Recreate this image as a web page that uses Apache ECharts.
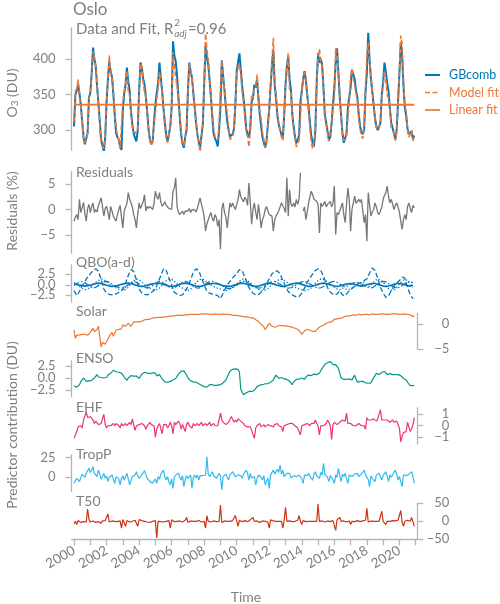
<!DOCTYPE html>
<html><head><meta charset="utf-8">
<script src="https://cdn.jsdelivr.net/npm/echarts@6/dist/echarts.min.js"></script>
<style>html,body{margin:0;padding:0;background:#fff}#c{width:500px;height:604px}</style>
</head><body><div id="c"></div>
<script>
// ---------------- DATA ----------------
const START_YEAR = 2000;        // first month: Jan 2000
const N_MONTHS = 252;           // monthly, Jan 2000 .. Dec 2020
const N_BIMONTH = 126;          // QBO terms read every 2 months
const xTickYears = [2000,2001,2002,2003,2004,2005,2006,2007,2008,2009,2010,2011,2012,2013,2014,2015,2016,2017,2018,2019,2020,2021];
const xLabelYears = [2000,2002,2004,2006,2008,2010,2012,2014,2016,2018,2020];

const o3Ticks = [300,350,400];
const resTicks = [-5,0,5];
const qboTicks = [-2.5,0,2.5];
const solarTicks = [-5,0];
const ensoTicks = [-2.5,0,2.5];
const ehfTicks = [-1,0,1];
const tropTicks = [0,25];
const t50Ticks = [-50,0,50];

const legendNames = ['GBcomb', 'Model fit', 'Linear fit'];

// GBcomb total ozone (DU)
const gbcomb = [
305,350,355,364,352,335,312,290,280,281,296,346,
352,380,416,400,390,362,338,312,286,278,270,290,
340,372,397,382,375,350,322,296,290,287,276,272,
328,352,364,388,368,356,326,308,295,289,284,300,
355,395,388,372,364,346,325,300,286,280,284,312,
336,352,366,395,374,355,330,310,292,284,294,305,
332,425,405,397,376,346,318,294,281,275,290,300,
355,395,382,374,352,332,310,294,283,275,292,308,
364,418,402,392,370,346,318,294,288,284,277,300,
332,398,376,355,332,312,300,291,290,294,302,336,
383,396,408,386,362,345,326,302,294,290,302,340,
345,364,360,371,346,322,305,290,282,275,285,308,
330,362,392,413,364,345,320,308,300,294,288,320,
364,390,404,372,356,322,305,290,281,279,292,340,
355,372,383,370,350,332,310,292,282,277,300,368,
408,395,400,392,360,322,310,298,286,290,310,336,
360,396,415,380,346,320,296,282,280,295,332,346,
360,385,378,372,356,346,322,305,298,294,300,354,
380,437,400,372,354,335,317,305,300,298,310,350,
368,395,382,366,354,330,310,303,295,287,300,340,
380,423,405,362,332,320,302,294,296,298,287,292];

// Model fit (DU)
const modelFit = [
312,355,358,371,345,337,311,286,282,288,295,343,
354,378,411,402,390,364,335,307,280,277,274,289,
338,374,405,380,376,355,328,303,293,287,274,276,
340,353,364,383,356,349,322,306,298,295,294,302,
350,394,388,367,354,347,323,299,284,279,284,308,
324,343,359,382,368,353,327,305,290,282,293,304,
332,410,389,374,374,348,321,298,282,278,291,302,
356,394,384,374,351,332,312,293,283,269,289,308,
370,436,413,400,374,348,324,301,291,289,286,306,
358,398,371,357,337,323,303,287,289,290,300,336,
379,388,393,377,354,340,318,296,292,276,298,350,
345,359,362,378,343,325,316,296,286,275,283,309,
333,366,397,430,371,350,323,309,298,290,285,319,
366,367,409,358,352,320,301,289,276,276,286,317,
355,373,381,378,352,328,302,282,274,272,295,362,
404,414,395,390,356,317,308,295,284,285,308,332,
344,416,417,384,350,318,292,285,287,292,319,339,
376,385,373,363,352,341,316,301,292,288,308,358,
405,423,396,377,356,335,313,303,302,301,314,348,
361,384,370,350,345,326,304,300,295,285,296,338,
382,433,421,369,335,326,300,290,295,300,285,291];

// Linear fit: start and end of the fitted straight line
const linearFitYears = [2000, 2020.917];
const linearFitValues = [335.8, 335.6];

// Residuals (%)
const residuals = [
-2.3,-1.5,-1.0,-2.0,2.0,-0.6,0.4,1.4,-0.8,-2.3,0.2,1.0,
-0.6,0.5,1.3,-0.6,0.0,-0.5,0.8,1.5,2.3,0.5,-1.3,0.2,
0.6,-0.5,-2.0,0.6,-0.3,-1.3,-1.8,-2.3,-1.0,0.0,0.8,-1.5,
-3.6,-0.3,0.0,1.2,3.3,2.0,1.3,0.5,-1.0,-2.0,-3.6,-0.8,
1.3,0.2,0.0,1.5,2.9,-0.3,0.6,0.2,0.6,0.4,0.0,1.2,
3.6,2.5,2.0,3.3,1.5,0.6,1.0,1.5,0.8,0.6,0.2,0.3,
0.0,3.6,4.2,6.2,0.6,-0.5,-1.0,-1.3,-0.3,-1.0,-0.3,-0.6,
-0.3,0.2,-0.6,0.0,0.3,-0.1,-0.5,0.3,0.0,2.3,1.0,0.0,
-1.5,-4.2,-2.8,-2.0,-1.2,-0.6,-1.8,-2.3,-1.0,-1.6,-3.3,-2.0,
-7.8,0.0,1.3,-0.6,-1.5,-3.6,-1.0,1.3,0.5,1.3,0.6,0.0,
1.0,2.0,3.9,2.5,2.3,1.5,2.4,2.0,0.8,5.2,1.5,-2.9,
0.0,1.3,-0.5,-2.0,1.0,-1.0,-3.6,-2.0,-1.3,0.0,0.6,-0.3,
-1.0,-1.2,-1.3,-4.2,-2.0,-1.3,-0.8,-0.3,0.5,1.3,1.0,0.2,
-0.6,6.2,-1.3,3.9,1.0,0.6,1.3,0.5,2.0,1.0,2.0,7.2,
null,-0.3,0.5,-2.0,-0.5,1.3,2.5,3.6,2.9,2.0,1.8,1.6,
1.0,-4.6,1.3,0.6,1.0,1.6,0.5,1.0,0.8,1.6,0.5,1.2,
4.6,-4.9,-0.6,-1.0,-1.3,0.5,1.3,-1.0,-2.6,1.0,4.2,2.0,
-4.2,0.0,1.3,2.6,1.2,1.6,2.0,1.4,2.0,2.0,-2.6,-1.0,
-6.2,3.3,1.0,-1.3,-0.5,0.0,1.3,0.5,-0.6,-1.0,-1.3,0.5,
2.0,2.8,3.3,4.6,2.5,1.3,2.0,1.0,0.0,0.8,1.3,0.5,
-0.5,-2.3,-3.9,-2.0,-1.0,-2.0,0.6,1.3,0.2,-0.6,0.8,0.3];

// QBO terms (DU), every 2 months
const qboA = [
0.2,0.1,-0.1,-0.2,-0.3,-0.2, -0.1,0.1,0.3,0.4,0.3,0.1, -0.1,-0.3,-0.4,-0.3,-0.2,0.0,
0.2,0.3,0.4,0.3,0.1,-0.1, -0.3,-0.4,-0.3,-0.1,0.1,0.2, 0.3,0.4,0.3,0.1,-0.1,-0.3,
-0.4,-0.3,-0.1,0.1,0.3,0.4, 0.3,0.1,-0.1,-0.3,-0.4,-0.3, -0.1,0.1,0.2,0.3,0.3,0.2,
0.0,-0.2,-0.3,-0.4,-0.3,-0.1, 0.1,0.3,0.4,0.3,0.1,-0.1, -0.3,-0.4,-0.3,-0.1,0.1,0.3,
0.4,0.3,0.1,-0.1,-0.3,-0.4, -0.3,-0.1,0.1,0.3,0.4,0.3, 0.1,-0.1,-0.3,-0.4,-0.3,-0.1,
0.1,0.3,0.4,0.3,0.1,-0.1, -0.3,-0.4,-0.3,-0.1,0.1,0.2, 0.3,0.2,0.0,-0.2,-0.3,-0.2,
0.0,0.2,0.3,0.3,0.1,-0.1, -0.3,-0.4,-0.3,-0.1,0.1,0.3, 0.3,0.2,0.0,-0.2,-0.3,-0.1];
const qboB = [
-1.4,-2.6,-1.6,-0.2,0.8,1.8, 2.6,3.4,3.8,3.2,1.2,-1.0, -2.0,-2.3,-2.4,-2.3,-2.0,-1.6,
-1.2,0.4,2.2,3.6,3.2,1.2, -1.0,-2.0,-2.3,-2.4,-2.0,-1.6, -1.0,0.6,2.2,3.8,3.4,1.6,
0.0,-1.8,-2.2,-2.5,-2.4,-1.6, -0.4,1.2,3.0,3.8,3.4,1.6, 0.0,-1.6,-2.0,-2.2,-2.4,-2.6,
-3.3,-2.0,-0.6,0.4,1.2,2.0, 2.6,3.6,3.4,1.8,0.0,-1.2, -2.0,-2.4,-2.3,-1.8,-1.0,0.2,
1.4,2.6,3.2,3.3,2.6,1.0, -0.4,-1.6,-2.2,-2.6,-2.9,-2.8, -2.0,-0.8,0.6,1.6,2.6,3.4,
3.8,3.4,2.0,0.2,-1.4,-2.0, -2.4,-2.2,-1.4,-2.4,-2.6,-1.8, -1.2,-0.6,0.0,0.3,0.6,1.0,
1.4,2.8,4.0,3.4,1.6,-0.6, -2.0,-3.0,-2.6,-1.4,-0.4,0.4, 1.0,1.8,1.6,-0.6,-2.4,-3.3];
const qboC = [
0.5,0.2,-0.4,-0.9,-1.2,-1.0, -0.6,0.0,0.6,1.0,1.4,1.2, 0.8,0.2,-0.3,-0.6,-0.9,-1.2,
-1.3,-1.1,-0.6,0.2,0.9,1.4, 1.2,0.7,0.0,-0.5,-0.9,-1.1, -1.3,-1.0,-0.5,0.3,1.0,1.3,
1.3,0.8,0.2,-0.4,-0.8,-1.2, -1.4,-1.0,-0.3,0.5,1.1,1.4, 1.2,0.6,0.2,-0.2,-0.6,-0.8,
-1.0,-1.3,-1.4,-1.2,-0.8,-0.4, 0.2,0.8,1.3,1.4,1.0,0.5, -0.2,-0.7,-1.1,-1.3,-1.4,-1.1,
-0.6,0.0,0.6,1.0,1.3,1.2, 0.9,0.4,0.0,-0.4,-0.8,-1.0, -1.2,-1.4,-1.3,-1.0,-0.4,0.4,
1.0,1.4,1.3,0.9,0.4,-0.2, -0.6,-1.0,-1.2,-0.8,-1.0,-1.2, -1.0,-0.6,-0.2,0.3,0.6,0.5,
0.0,-0.4,0.2,1.0,1.4,1.2, 0.6,-0.2,-0.9,-1.3,-1.2,-0.6, 0.2,0.9,1.3,1.0,0.2,-0.6];
const qboD = [
-0.2,0.3,0.6,0.8,0.5,0.0, -0.5,-0.8,-0.6,-0.2,0.3,0.7, 0.8,0.6,0.2,-0.2,-0.5,-0.7,
-0.8,-0.5,0.0,0.5,0.8,0.6, 0.2,-0.3,-0.6,-0.8,-0.6,-0.2, 0.3,0.7,0.8,0.5,0.0,-0.5,
-0.8,-0.7,-0.3,0.2,0.6,0.8, 0.6,0.2,-0.3,-0.7,-0.8,-0.5, 0.0,0.4,0.7,0.8,0.6,0.3,
0.0,-0.4,-0.7,-0.9,-0.8,-0.5, -0.1,0.4,0.8,0.9,0.6,0.1, -0.3,-0.6,-0.8,-0.7,-0.4,0.0,
0.4,0.7,0.8,0.5,0.1,-0.3, -0.6,-0.8,-0.7,-0.4,0.0,0.4, 0.7,0.8,0.6,0.2,-0.2,-0.6,
-0.8,-0.7,-0.4,0.0,0.4,0.7, 0.8,0.6,0.2,-0.2,-0.5,-0.3, 0.1,0.4,0.6,0.5,0.2,-0.2,
-0.5,-0.8,-0.7,-0.3,0.2,0.6, 0.8,0.7,0.3,-0.2,-0.6,-0.8, -0.6,-0.2,0.3,0.7,0.8,0.5];

// Solar (DU)
const solar = [
-1.1,-2.8,-2.2,-1.8,-2.1,-2.4,-2.0,-1.6,-2.0,-1.7,-2.2,-2.0,
-1.6,-1.2,-0.8,-1.5,-1.8,-1.0,-0.4,-2.5,-4.5,-3.6,-3.2,-4.0,
-3.8,-3.0,-2.4,-2.0,-1.6,-2.4,-1.8,-1.2,-1.6,-1.0,-0.8,-0.9,
-0.1,-0.3,-0.4,0.0,0.2,0.1,-0.4,0.0,0.5,0.3,0.5,0.6,
0.5,0.7,0.6,0.8,0.9,0.7,1.0,1.2,1.0,1.2,1.3,1.2,
1.3,1.5,1.4,1.5,1.4,1.6,1.5,1.6,1.5,1.7,1.6,1.7,
1.7,1.8,1.7,1.8,1.8,1.7,1.8,1.9,1.8,1.9,1.9,1.8,
1.9,1.9,2.0,1.9,2.0,2.0,2.0,2.1,2.0,2.1,2.1,2.0,
2.1,2.0,2.1,2.1,2.0,2.1,2.0,2.1,2.1,2.0,2.0,2.1,
2.0,2.0,2.1,2.0,2.0,1.9,2.0,2.0,1.9,1.9,1.8,1.9,
1.8,1.7,1.7,1.8,1.6,1.7,1.5,1.6,1.5,1.5,1.3,1.4,
1.3,1.2,0.9,0.5,0.6,0.2,0.0,-0.1,-0.5,-1.1,-0.6,-0.3,
0.2,-0.2,-0.4,-0.2,-0.6,-0.3,-0.4,-0.1,-0.2,-0.5,-0.3,-0.1,
-0.3,-0.6,-0.4,-0.8,-0.5,-0.4,-0.7,-0.5,-0.9,-0.6,-1.2,-1.0,
-2.0,-1.6,-1.3,-1.5,-1.0,-1.3,-1.2,-1.1,-1.4,-1.6,-1.4,-1.0,
-0.8,-0.6,-0.4,-0.5,-0.2,0.0,0.2,0.1,0.4,0.7,0.5,0.8,
1.0,1.2,1.1,1.3,1.2,1.4,1.3,1.5,1.6,1.5,1.7,1.8,
1.7,1.8,1.9,1.7,1.8,1.9,2.0,1.8,1.9,2.0,2.0,1.9,
2.0,2.0,1.9,2.0,2.1,2.0,2.0,2.1,2.0,2.0,2.1,2.0,
2.1,2.0,2.0,2.1,2.0,2.1,2.1,2.0,2.1,2.0,2.1,2.1,
2.0,2.1,2.0,2.0,2.1,2.0,2.0,1.9,1.9,1.8,1.5,1.7];

// ENSO (DU)
const enso = [
-1.6,-1.7,-1.9,-1.6,-1.4,-0.8,-0.4,0.0,-0.4,-0.7,-0.8,-0.6,
-0.8,-0.5,-0.3,0.0,0.3,0.7,0.2,-0.2,0.1,0.3,0.0,-0.2,
0.1,0.6,0.8,1.0,1.4,1.6,1.5,1.3,1.4,1.2,1.1,1.0,
0.6,0.2,-0.2,-0.5,0.0,0.3,0.5,0.3,0.4,0.6,0.4,0.0,
-0.1,0.3,0.8,1.0,1.2,1.4,1.0,0.7,0.9,0.8,1.1,1.4,
1.0,0.4,0.6,0.7,0.3,-0.2,-0.4,-0.8,-1.0,-0.9,-0.7,-0.7,
-0.6,-0.4,-0.2,-0.1,0.3,0.8,1.2,1.4,1.6,1.5,1.2,0.6,
0.0,-0.3,-0.6,-0.7,-0.8,-1.0,-0.9,-1.1,-1.2,-1.4,-1.5,-1.6,
-1.8,-2.0,-1.9,-1.6,-1.4,-1.2,-1.4,-1.5,-1.6,-1.4,-1.5,-1.5,
-1.4,-1.2,-1.0,-0.7,-0.4,0.2,0.8,1.4,1.6,1.8,2.0,1.9,
2.0,1.8,1.2,-2.4,-2.9,-3.5,-3.3,-3.1,-3.0,-2.8,-2.9,-2.8,
-2.7,-2.6,-2.2,-1.8,-1.6,-1.5,-1.5,-1.4,-1.3,-1.2,-1.3,-1.2,
-1.1,-0.9,-0.6,-0.4,0.0,0.6,0.3,-0.1,0.0,0.1,0.0,-0.2,
-0.2,-0.3,-0.5,-0.7,-1.0,-1.4,-0.8,-0.4,-0.3,-0.2,-0.2,-0.1,
0.0,-0.2,-0.3,0.2,0.4,0.6,0.4,0.5,0.7,0.8,0.9,0.7,
0.6,1.0,1.5,2.0,2.4,2.8,3.0,3.2,3.5,3.4,3.0,2.8,
2.8,2.8,2.4,2.0,1.0,0.0,-0.2,-0.3,-0.4,-0.3,-0.3,-0.2,
-0.3,-0.4,-0.6,0.6,-0.2,-0.9,-0.8,-0.7,-0.8,-0.7,-0.8,-1.0,
-0.9,-1.1,-1.4,-1.0,-0.4,0.0,0.5,1.0,0.9,0.7,0.8,1.2,
1.3,1.4,1.0,0.7,0.8,0.9,0.8,0.7,0.6,0.7,0.8,0.7,
0.6,0.5,0.2,-0.1,-0.2,-0.4,-0.9,-1.3,-1.6,-1.7,-1.6,-1.6];

// EHF (DU)
const ehf = [
-1.1,-0.8,-0.5,-0.1,-0.2,0.0,-0.2,0.5,0.4,1.2,0.7,0.6,
0.8,0.9,0.5,0.2,0.4,0.3,0.1,0.0,0.2,0.3,1.0,0.1,
-0.2,0.0,0.1,0.0,-0.1,0.2,0.0,0.2,0.1,0.0,-0.2,0.2,
0.0,0.1,0.2,0.0,0.1,0.3,0.1,0.6,0.1,-0.4,0.0,-0.1,
0.1,0.0,0.2,0.1,0.0,-0.3,0.0,0.1,0.3,0.1,0.2,0.0,
-1.0,-0.3,0.0,0.2,0.1,-0.7,0.1,0.2,0.1,-0.2,0.0,0.3,
0.0,-0.7,0.3,0.1,0.0,0.4,0.2,-0.3,0.1,0.0,-0.5,0.1,
0.3,0.0,0.1,-0.2,0.2,0.0,0.1,0.2,0.0,0.1,0.3,0.0,
0.1,0.2,0.0,0.1,0.3,0.0,0.1,0.2,0.0,0.1,0.0,0.1,
1.1,0.5,0.3,0.2,0.1,0.2,0.3,0.2,0.8,0.8,0.3,0.5,
0.3,0.6,0.7,0.4,0.3,0.2,0.0,0.1,-0.1,-0.2,-0.1,-0.4,
-0.3,-1.1,-0.2,0.0,0.1,0.2,-0.1,0.0,0.1,-0.1,0.0,0.1,
0.2,0.0,0.1,-0.1,0.1,0.0,0.2,0.0,0.1,-0.1,-0.5,0.0,
-0.1,0.1,0.0,0.2,0.1,0.2,0.1,0.0,0.1,-0.2,-0.5,-0.8,
0.0,0.1,0.1,0.0,0.2,0.1,0.0,0.2,0.1,0.2,0.5,0.2,
0.0,-0.8,0.0,0.1,0.0,0.1,0.2,0.5,0.3,0.0,-1.2,0.1,
0.3,0.2,0.1,0.2,0.3,0.2,0.5,0.6,0.4,1.1,0.2,0.1,
0.2,0.1,0.0,0.1,0.0,0.1,0.2,0.1,0.0,0.1,0.0,-0.3,
0.7,0.5,0.6,0.5,0.5,0.6,0.5,0.4,0.6,0.5,1.4,0.5,
0.6,0.5,0.4,0.5,0.6,0.3,0.4,0.5,0.3,0.2,0.4,0.1,
-0.2,-1.4,-0.9,-0.6,-0.7,-0.5,0.3,0.2,-0.5,-0.3,0.1,0.7];

// TropP (DU)
const tropP = [
-7.5,-4,-1.3,1,-5.4,0,4,2.9,0,5,7,11.3,
6,9,13.3,5,2.9,1,9,4,-2.5,1,5,-1,
2,-5.4,0,2,2.9,1,-7.5,0.8,0.8,-2,-9.6,-1,
2,-3.4,1,5,-2,-9.6,-4,1,-1.3,3,7,2,
-1.3,0,2.9,5,8.3,3,-1.3,0,-5.4,-3,-7.5,-5,
-2,-7.5,1,-2.5,4,6,9,0,-3.4,1,-6,-9.6,
-2,-13.8,0,2.9,4,5,0,-3.4,2,-11.7,-3,2,
-1.3,1,3,-13.8,0,2.9,-1,3,-3.4,2,0.8,2,
0,2.9,25.8,4,0.8,3,7,2,4,-1.3,1,5,
2,-15.9,1,0.8,4,2,-3.4,3,5,7,4,0.8,
2,3,5,2,-1.3,4,6,9,5,-3.4,5,-1,
-3.4,1,-9.6,-2,2.9,4,0,-3.4,2,-9.6,-5,-1,
-13.8,3,2,9,4,5,10,6,15.4,4,9,1,
0.8,5,3,5,-1,-1.3,2,0,0.8,3,2.9,1,
-2,-7.5,3,0.8,2,5,1,3,-3.4,4,7,2,
0,-1.3,6,3,17.5,4,5,0,-5.4,2,2.9,-3,
-7.5,3,0,11.3,2,-5.4,4,1,5,-2,-7.5,3,
2.9,1,0.8,4,2,5,1,2.9,4,6,9,3,
0.8,-3,-11.7,2,-1.3,1,-5.4,3,2,5,1,-3.4,
2,4,7,1,-5.4,3,0,2.9,6,9,4,-3.4,
1,2,-11.7,3,5,2,0.8,4,3,7,1,-7.5];

// T50 (DU)
const t50 = [
-7,0,-9,2,0,-3,2,-1,3,-2,34,6,
-2,-4,1,0,-3,2,-1,0,-5,1,0,2,
-3,20,-2,0,1,-3,0,2,-1,-4,1,-19,
5,0,-14,2,0,-2,1,0,-1,3,-1,-14,
5,0,2,-1,0,3,-2,0,-3,1,0,4,
2,-46,0,2,-1,0,-2,1,0,-1,2,-19,
4,0,-1,2,0,-3,1,0,-2,0,3,11,
-3,0,1,-2,0,1,0,-1,2,0,-2,1,
0,-19,16,0,1,-2,0,1,0,-1,2,0,
45,-3,0,1,-2,0,1,0,-1,2,0,16,
1,-14,3,0,-1,0,2,0,-1,0,4,5,
11,0,-2,1,0,-3,0,1,-1,0,2,-2,
-19,4,0,1,-2,0,1,0,-1,0,-19,2,
39,0,-2,1,0,-1,2,0,-1,3,16,0,
-9,2,0,-1,1,0,-2,0,1,0,3,0,
48,0,-1,1,0,-2,0,1,0,-1,0,2,
-3,-25,4,0,11,0,-1,1,0,-2,0,1,
-9,0,1,-1,0,2,0,-1,0,1,0,3,
36,-2,0,1,-1,0,1,0,-1,0,2,28,
0,3,-9,0,1,0,-1,2,0,1,-1,3,
2,30,-2,-14,0,1,3,2,0,11,14,-14];

// ---------------- CHART ----------------
const monthX = Array.from({length: N_MONTHS}, (_, i) => START_YEAR + i / 12);
const bimonthX = Array.from({length: N_BIMONTH}, (_, i) => START_YEAR + 2 * i / 12);
const pairs = (xs, ys) => xs.map((x, i) => [x, ys[i]]);

const TXT = '#7f7f7f', AX = '#b5b5b5', FONT = 'Lato';
const C = {blue:'#0077BB', orange:'#EE7733', teal:'#009988', magenta:'#EE3377', cyan:'#33BBEE', red:'#CC3311', grey:'#777777'};

const GL = 71.6, GW = 345.7;
const panels = [
  {top:28,    h:122,  min:271.9, max:443.7, pos:'left',  ticks:o3Ticks,    dec:0},
  {top:171.7, h:81.3, min:-8.53, max:7.41,  pos:'left',  ticks:resTicks,   dec:0},
  {top:265,   h:37,   min:-4.1,  max:4.71,  pos:'left',  ticks:qboTicks,   dec:1},
  {top:313.3, h:36,   min:-5,    max:2.2,   pos:'right', ticks:solarTicks, dec:0},
  {top:361,   h:35.7, min:-3.9,  max:3.54,  pos:'left',  ticks:ensoTicks,  dec:1},
  {top:407.7, h:36.3, min:-1.59, max:1.57,  pos:'right', ticks:ehfTicks,   dec:0},
  {top:455,   h:36.7, min:-18,   max:27.9,  pos:'left',  ticks:tropTicks,  dec:0},
  {top:503.3, h:36,   min:-50,   max:50,    pos:'right', ticks:t50Ticks,   dec:0}
];
const fmt = (dec) => (v) => (dec ? Number(v).toFixed(dec) : String(Math.round(v))).replace('-', '\u2212');

const grids = panels.map(p => ({left:GL, width:GW, top:p.top, height:p.h}));
const xAxes = panels.map((p, i) => {
  const last = i === panels.length - 1;
  return {
    type:'value', gridIndex:i, min:1999.85, max:2021.1, show:last,
    splitLine:{show:false},
    axisLine:{show:true, onZero:false, lineStyle:{color:AX, width:1.3}},
    axisTick:{show:true, length:6, customValues:xTickYears, lineStyle:{color:AX, width:1.3}},
    axisLabel:{show:true, customValues:xLabelYears, rotate:30, margin:10, color:TXT, fontSize:13.5, fontFamily:FONT, formatter:(v)=>String(Math.round(v))}
  };
});
// One y axis per tick value (ECharts hides ticks whose labels would overlap inside one axis).
const yAxes = [];
const panelAxis = [];
panels.forEach((p, i) => {
  panelAxis.push(yAxes.length);
  p.ticks.forEach((t, k) => {
    yAxes.push({
      type:'value', gridIndex:i, position:p.pos, min:p.min, max:p.max,
      splitLine:{show:false},
      axisLine:{show:k === 0, onZero:false, lineStyle:{color:AX, width:1.3}},
      axisTick:{show:true, length:6, customValues:[t], lineStyle:{color:AX, width:1.3}},
      axisLabel:{customValues:[t], formatter:fmt(p.dec), color:TXT, fontSize:13, fontFamily:FONT,
                 margin: p.pos === 'left' ? 16 : 32, align:'right'}
    });
  });
});

function line(name, gi, data, color, width, type, z) {
  return {name, type:'line', xAxisIndex:gi, yAxisIndex:panelAxis[gi], data, symbol:'none', showSymbol:false,
          connectNulls:false, silent:true, z:z||2, lineStyle:{color, width, type:type||'solid'}, itemStyle:{color}};
}

const series = [
  line(legendNames[0], 0, pairs(monthX, gbcomb), C.blue, 2.0, 'solid', 2),
  line(legendNames[1], 0, pairs(monthX, modelFit), C.orange, 1.6, [5, 2.5], 3),
  line(legendNames[2], 0, pairs(linearFitYears, linearFitValues), C.orange, 1.8, 'solid', 4),
  line('Residuals', 1, pairs(monthX, residuals), C.grey, 1.3),
  line('QBO a', 2, pairs(bimonthX, qboA), C.blue, 1.7, 'solid'),
  line('QBO b', 2, pairs(bimonthX, qboB), C.blue, 1.3, [5, 2.5]),
  line('QBO c', 2, pairs(bimonthX, qboC), C.blue, 1.3, [1.3, 2]),
  line('QBO d', 2, pairs(bimonthX, qboD), C.blue, 1.2, [6, 2, 1.5, 2]),
  line('Solar', 3, pairs(monthX, solar), C.orange, 1.2),
  line('ENSO', 4, pairs(monthX, enso), C.teal, 1.2),
  line('EHF', 5, pairs(monthX, ehf), C.magenta, 1.2),
  line('TropP', 6, pairs(monthX, tropP), C.cyan, 1.2),
  line('T50', 7, pairs(monthX, t50), C.red, 1.2)
];

// text measurement for the R^2_adj label
const mctx = document.createElement('canvas').getContext('2d');
mctx.font = '15px Lato';
const wMain = mctx.measureText('Data and Fit, R').width;
mctx.font = 'italic 10px Lato';
const wAdj = mctx.measureText('adj').width;

const tstyle = (text, size, extra) => Object.assign({text, fontSize:size, fontFamily:FONT, fill:TXT, verticalAlign:'middle'}, extra||{});
const legendColors = [C.blue, C.orange, C.orange];
const legendDash = [null, [5, 2.5], null];
const legendGraphic = [];
legendNames.forEach((n, i) => {
  const y = 75 + i * 17.5;
  legendGraphic.push({type:'line', shape:{x1:425, y1:y, x2:440, y2:y},
    style:{stroke:legendColors[i], lineWidth: i === 0 ? 2 : 1.7, lineDash:legendDash[i] || null}});
  legendGraphic.push({type:'text', x:449, y:y, style:tstyle(n, 12.5, {fill:legendColors[i]})});
});

const graphic = [
  {type:'text', x:73, y:10, style:tstyle('Oslo', 17)},
  {type:'text', x:76, y:29, style:tstyle('Data and Fit, R', 15)},
  {type:'text', x:76 + wMain + 0.8, y:22.5, style:tstyle('2', 10)},
  {type:'text', x:76 + wMain + 0.8, y:33.5, style:tstyle('adj', 10, {fontStyle:'italic'})},
  {type:'text', x:76 + wMain + wAdj + 2, y:29, style:tstyle('=0.96', 15)},
  {type:'text', x:76, y:172.7, style:tstyle('Residuals', 14)},
  {type:'text', x:76, y:262.3, style:tstyle('QBO(a-d)', 14)},
  {type:'text', x:76, y:311.7, style:tstyle('Solar', 14)},
  {type:'text', x:76, y:358.7, style:tstyle('ENSO', 14)},
  {type:'text', x:76, y:407, style:tstyle('EHF', 14)},
  {type:'text', x:76, y:454.5, style:tstyle('TropP', 14)},
  {type:'text', x:76, y:501.7, style:tstyle('T50', 14)},
  {type:'text', x:12, y:93, rotation:Math.PI/2, style:{text:'{a|O}{b|3}{a| (DU)}', align:'center', verticalAlign:'middle',
     rich:{a:{fontSize:14, fontFamily:FONT, fill:TXT, color:TXT}, b:{fontSize:10, fontFamily:FONT, fill:TXT, color:TXT, verticalAlign:'bottom', padding:[6,0,0,0]}}}},
  {type:'text', x:12, y:211, rotation:Math.PI/2, style:tstyle('Residuals (%)', 14, {align:'center'})},
  {type:'text', x:12, y:425, rotation:Math.PI/2, style:tstyle('Predictor contribution (DU)', 14, {align:'center'})},
  {type:'text', x:246, y:597, style:tstyle('Time', 14, {align:'center'})}
].concat(legendGraphic);

const chart = echarts.init(document.getElementById('c'), null, {renderer:'canvas'});
chart.setOption({
  animation:false,
  backgroundColor:'#fff',
  grid:grids, xAxis:xAxes, yAxis:yAxes, series,
  graphic
});
</script>
</body></html>
